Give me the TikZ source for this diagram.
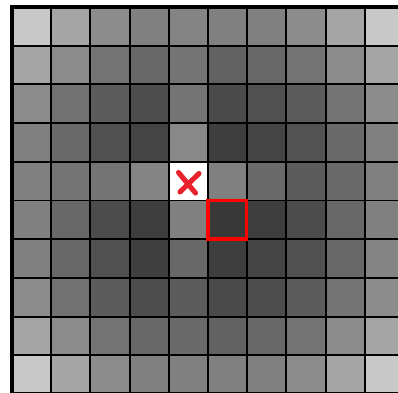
\documentclass[tikz,border=0pt]{standalone}
\usepackage{xcolor}
\usepackage{tikz}
\definecolor{GridLine}{HTML}{000000}
\definecolor{BoxRed}{HTML}{FF0000}
\definecolor{MarkRed}{HTML}{E8212B}
\tikzset{
  cell/.style={draw=GridLine,line width=1.1pt},
  frame/.style={draw=GridLine,line width=2.2pt},
  pick/.style={draw=BoxRed,line width=2pt},
  crossmark/.style={draw=MarkRed,line width=2.9pt,line cap=round}
}
\newcommand{\cellrow}[2]{%
  \foreach \v [count=\c from 0] in {#2}
    \filldraw[cell,fill={rgb,255:red,\v;green,\v;blue,\v}]
      ({12+39.2*\c},{7+38.7*#1}) rectangle ++(39.2,38.7);}

\begin{document}
\begin{tikzpicture}[x=0.02cm,y=-0.02cm]
\path[use as bounding box] (0,0) rectangle (398,392);
\fill[white] (0,0) rectangle (398,392);
\clip (0,0) rectangle (398,392);
\cellrow{0}{200,165,140,128,132,128,128,140,165,200}
\cellrow{1}{165,140,116,104,116,98,104,116,140,165}
\cellrow{2}{140,114,92,78,116,74,80,92,116,140}
\cellrow{3}{128,106,80,68,136,62,68,82,106,128}
\cellrow{4}{128,116,116,132,255,128,106,92,106,128}
\cellrow{5}{128,104,76,62,128,56,62,76,104,128}
\cellrow{6}{128,104,80,64,104,62,68,80,104,132}
\cellrow{7}{140,114,92,78,92,74,78,92,116,140}
\cellrow{8}{165,140,116,104,106,98,104,116,140,165}
\cellrow{9}{200,165,140,128,128,128,128,140,165,200}
\draw[frame] (12,7) rectangle (404,394);
\draw[pick] (208,200.5) rectangle (246.4,239.2);
\draw[crossmark] (178.5,172.5) -- (195.5,193);
\draw[crossmark] (199,173.5) -- (180,192);
\end{tikzpicture}
\end{document}
